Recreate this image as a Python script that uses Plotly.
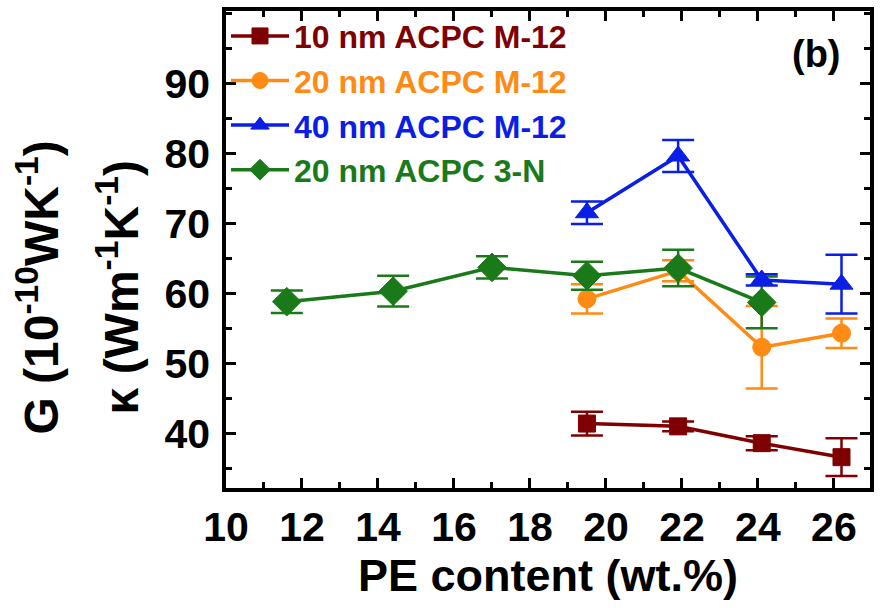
import plotly.graph_objects as go

# PE content (wt.%) for each sample set
pe_m12 = [19.5, 21.9, 24.1, 26.2]
pe_3n = [11.6, 14.4, 17.0, 19.5, 21.9, 24.1]

# 10 nm ACPC M-12
k_10m12 = [41.4, 41.0, 38.6, 36.6]
e_10m12 = [1.7, 0.7, 1.0, 2.7]

# 20 nm ACPC M-12
k_20m12 = [59.2, 63.2, 52.3, 54.3]
e_20m12 = [2.1, 1.5, 5.9, 2.1]

# 40 nm ACPC M-12
k_40m12 = [71.5, 79.6, 61.9, 61.3]
e_40m12 = [1.6, 2.3, 0.8, 4.2]

# 20 nm ACPC 3-N
k_20_3n = [58.8, 60.3, 63.7, 62.5, 63.6, 58.7]
e_20_3n = [1.6, 2.2, 1.6, 2.0, 2.6, 3.7]

x_ticks = [10, 12, 14, 16, 18, 20, 22, 24, 26]
y_ticks = [40, 50, 60, 70, 80, 90]

FONT = "Liberation Sans"

series = [
    # name, x, y, err, colour, symbol, size, legend rank
    ("10 nm ACPC M-12", pe_m12, k_10m12, e_10m12, "#7f0000", "square", 17, 1),
    ("20 nm ACPC M-12", pe_m12, k_20m12, e_20m12, "#ff8a14", "circle", 18, 2),
    ("20 nm ACPC 3-N", pe_3n, k_20_3n, e_20_3n, "#1a7a1a", "diamond", 22, 4),
    ("40 nm ACPC M-12", pe_m12, k_40m12, e_40m12, "#0a1ee6", "triangle-up", 20, 3),
]

fig = go.Figure()
for name, xs, ys, es, col, sym, sz, rank in series:
    fig.add_trace(go.Scatter(
        x=xs, y=ys,
        mode="lines+markers",
        name=f"<span style='color:{col}'>{name}</span>",
        legendrank=rank,
        line=dict(color=col, width=3.5),
        marker=dict(symbol=sym, size=sz, color=col, line=dict(color=col, width=1)),
        error_y=dict(type="data", array=es, visible=True, color=col,
                     thickness=2.5, width=16),
    ))

axis_common = dict(
    showline=True, linecolor="black", linewidth=3.5, mirror="allticks",
    ticks="inside", ticklen=10, tickwidth=3, tickcolor="black",
    showgrid=False, zeroline=False,
    tickfont=dict(family=FONT, size=41, color="black", weight="bold"),
)

fig.update_xaxes(
    range=[10, 26.95], tickvals=x_ticks,
    minor=dict(ticks="inside", ticklen=6, tickwidth=3, dtick=1, tick0=10,
               tickcolor="black", showgrid=False),
    ticklabelstandoff=0,
    title=dict(text="PE content (wt.%)", standoff=6,
               font=dict(family=FONT, size=45, color="black", weight="bold")),
    **axis_common,
)
fig.update_yaxes(
    range=[32.2, 100.3], tickvals=y_ticks,
    minor=dict(ticks="inside", ticklen=6, tickwidth=3, dtick=5, tick0=0,
               tickcolor="black", showgrid=False),
    ticklabelstandoff=4,
    **axis_common,
)

# Two-line y-axis label: conductance and conductivity
ytitle_font = dict(family=FONT, size=48, color="black", weight="bold")
fig.add_annotation(
    text="G (10<sup>-10</sup>WK<sup>-1</sup>)", textangle=-90,
    xref="paper", yref="paper", x=-0.292, y=0.42,
    xanchor="center", yanchor="middle", showarrow=False, font=ytitle_font,
)
fig.add_annotation(
    text="κ (Wm<sup>-1</sup>K<sup>-1</sup>)", textangle=-90,
    xref="paper", yref="paper", x=-0.168, y=0.42,
    xanchor="center", yanchor="middle", showarrow=False, font=ytitle_font,
)
fig.add_annotation(
    text="(b)", xref="paper", yref="paper", x=0.917, y=0.91,
    xanchor="center", yanchor="middle", showarrow=False,
    font=dict(family=FONT, size=38, color="black", weight="bold"),
)

fig.update_layout(
    width=882, height=608,
    margin=dict(l=226, r=12, t=7, b=120),
    paper_bgcolor="white", plot_bgcolor="white",
    showlegend=True,
    legend=dict(
        x=0.0, y=1.005, xanchor="left", yanchor="top",
        bgcolor="rgba(0,0,0,0)", itemwidth=58, tracegroupgap=0,
        font=dict(family=FONT, size=32, color="black", weight="bold"),
    ),
)

fig.write_html("out.html")
